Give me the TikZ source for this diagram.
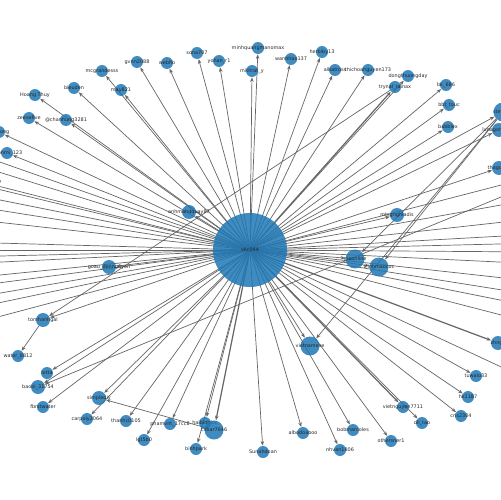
\documentclass[tikz,border=0pt]{standalone}
\usepackage{fontspec}
\setmainfont{DejaVu Sans}
\usetikzlibrary{arrows.meta,backgrounds}
\definecolor{nodeblue}{HTML}{1F77B4}
\begin{document}
\begin{tikzpicture}[x=0.02cm,y=-0.02cm,
 nd/.style={circle,fill=nodeblue,fill opacity=0.85,draw=none,inner sep=0pt,minimum size=0.24cm},
 nm/.style={nd,minimum size=0.28cm},
 nb/.style={nd,minimum size=0.38cm},
 nc/.style={nd,minimum size=1.48cm},
 lbl/.style={font=\fontsize{2.8}{3}\selectfont,text=black!85,fill opacity=1,text opacity=1,inner sep=0pt},
 every label/.style={lbl},
 edge/.style={draw=black!60,line width=0.4pt,-{Stealth[length=2.6pt,width=2pt]}},
 dedge/.style={edge,line width=0.7pt},
]
\useasboundingbox (0,0) rectangle (500,500);
% centre
\node[nc,label={center:vkc044}] (c) at (250,250) {};
% top
\node[nd,label={center:minhquangmanomax}] (a1) at (258,48) {};
\node[nd,label={center:mithrat\_y}] (a2) at (252,71) {};
\node[nd,label={center:wanhhao137}] (a3) at (291,59) {};
\node[nd,label={center:herbiby13}] (a4) at (322,52) {};
\node[nd,label={center:albatross}] (a5) at (335,70) {};
\node[nd,label={center:thichoanguyen173}] (a6) at (368,70) {};
\node[nd,label={center:dongthuongday}] (a7) at (408,76) {};
\node[nd,label={center:trynal\_rainax}] (a8) at (395,87) {};
\node[nd,label={center:bk\_686}] (a9) at (446,85) {};
\node[nd,label={center:bbt\_touc}] (a10) at (449,105) {};
\node[nd,label={center:babblex}] (a11) at (448,127) {};
\node[nb,label={center:stevenn}] (a12) at (503,112) {};
\node[nm,label={center:lunagorna\_ha}] (a13) at (499,130) {};
\node[nm,label={center:thagcsen}] (a14) at (499,168) {};
\node[nd,label={center:sona707}] (a15) at (197,53) {};
\node[nd,label={center:yohan\_r1}] (a16) at (219,61) {};
\node[nd,label={center:webfio}] (a17) at (167,63) {};
\node[nd,label={center:gvnn2088}] (a18) at (137,62) {};
\node[nd,label={center:mcgrandesss}] (a19) at (102,71) {};
\node[nd,label={center:may821}] (a20) at (121,90) {};
\node[nd,label={center:bieuden}] (a21) at (74,88) {};
\node[nd,label={center:Hoang Thuy}] (a22) at (35,95) {};
\node[nd,label={center:zeesefive}] (a23) at (29,118) {};
\node[nd,label={center:@chanhung3281}] (a24) at (66,120) {};
\node[nd,label={center:tranlong}] (a25) at (-1,132) {};
\node[nd,label={center:nhbhmi\_123}] (a26) at (7,153) {};
\node[nd,label={center:nguyenng87}] (a27) at (-14,183) {};
% middle
\node[nm,label={center:anhmahdquay87}] (b1) at (189,212) {};
\node[nm,label={center:goau\_dennguyen}] (b2) at (109,267) {};
\node[nm,label={center:tomhanhgal}] (b3) at (43,320) {};
\node[nm,label={center:mtsgnghiadis}] (b4) at (397,215) {};
\node[nb,label={center:maonline}] (b5) at (355,259) {};
\node[nb,label={center:trinhmaocuc}] (b6) at (379,267) {};
% bottom left
\node[nd,label={center:water\_8812}] (d1) at (18,356) {};
\node[nd,label={center:lotta}] (d2) at (47,373) {};
\node[nm,label={center:baobi\_31754}] (d3) at (38,387) {};
\node[nd,label={center:fbrstwater}] (d4) at (43,407) {};
\node[nm,label={center:simplediy}] (d5) at (99,398) {};
\node[nd,label={center:carpoly2064}] (d6) at (87,419) {};
\node[nd,label={center:thanhc0105}] (d7) at (126,421) {};
\node[nd,label={center:lgt5b0}] (d8) at (144,440) {};
\node[nd,label={center:phamvnt\_17cc8}] (d9) at (170,424) {};
\node[nd,label={center:haibinhloc}] (d10) at (205,423) {};
\node[nb,label={center:cxbar7646}] (d11) at (214,430) {};
\node[nd,label={center:binhpark}] (d12) at (196,449) {};
\node[nd,label={center:Sunahdoan}] (d13) at (263,452) {};
% bottom right
\node[nd,label={center:albodoaboo}] (e1) at (303,433) {};
\node[nb,label={center:vietnamese}] (e2) at (310,346) {};
\node[nd,label={center:bobmarcoles}] (e3) at (353,430) {};
\node[nd,label={center:nhvan1806}] (e4) at (340,450) {};
\node[nd,label={center:othersner1}] (e5) at (391,441) {};
\node[nd,label={center:vietnguyen7711}] (e6) at (403,407) {};
\node[nd,label={center:dil\_tao}] (e7) at (422,423) {};
\node[nd,label={center:cris2304}] (e8) at (461,416) {};
\node[nd,label={center:hk1187}] (e9) at (468,397) {};
\node[nd,label={center:tuwalo33}] (e10) at (476,376) {};
\node[nm,label={center:zhngx}] (e11) at (498,343) {};
\node[nd,label={center:dlvn}] (e12) at (512,372) {};
% off-canvas ends
\coordinate (L1) at (-40,148); \coordinate (L2) at (-40,160);
\coordinate (L3) at (-40,180); \coordinate (L4) at (-40,192);
\coordinate (L5) at (-40,204); \coordinate (L6) at (-40,218);
\coordinate (L7) at (-40,242); \coordinate (L8) at (-40,250);
\coordinate (L9) at (-40,257); \coordinate (L10) at (-40,264);
\coordinate (L11) at (-40,279); \coordinate (L12) at (-40,288);
\coordinate (L13) at (-40,300); \coordinate (L14) at (-40,311);
\coordinate (L15) at (-40,327);
\coordinate (R1) at (540,175); \coordinate (R2) at (540,198);
\coordinate (R3) at (540,218); \coordinate (R4) at (540,234);
\coordinate (R5) at (540,243); \coordinate (R6) at (540,252);
\coordinate (R7) at (540,264); \coordinate (R8) at (540,282);
\coordinate (R9) at (540,296); \coordinate (R10) at (540,308);
\coordinate (R11) at (540,325); \coordinate (RB) at (540,181);
\begin{pgfonlayer}{background}
\foreach \t in {a1,a2,a3,a4,a5,a6,a7,a9,a10,a11,a12,a13,a14,a15,a16,a17,a18,a19,a20,a21,a22,a23,a24,a25,a26,a27,b1,b2,b3,b4,b5,b6,d2,d3,d4,d5,d6,d7,d8,d9,d10,d12,d13,e1,e2,e3,e4,e5,e7,e8,e9,e10,e12}
  \draw[edge] (c.center) -- (\t);
\draw[dedge] (c.center) -- (a8);
\draw[dedge] (c.center) -- (d11);
\draw[dedge] (c.center) -- (e6);
\draw[dedge] (c.center) -- (e11);
\foreach \t in {L1,L2,L3,L4,L5,L6,L7,L8,L9,L10,L11,L12,L13,L14,L15,R1,R2,R3,R4,R5,R6,R7,R8,R9,R10,R11}
  \draw[edge] (c.center) -- (\t);
\draw[edge] (a12) -- (e2);
\draw[edge] (a12) -- (b6);
\draw[edge] (a12) -- (b5);
\draw[edge] (a8) -- (b3);
\draw[edge] (b3) -- (d1);
\draw[edge] (d11) -- (d5);
\draw[edge] (RB) -- (d3);
\end{pgfonlayer}
\end{tikzpicture}
\end{document}
